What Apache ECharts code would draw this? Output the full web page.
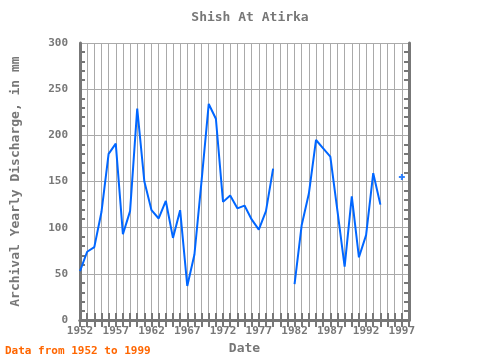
<!DOCTYPE html>
<html>
<head>
<meta charset="utf-8">
<script src="https://cdn.jsdelivr.net/npm/echarts@6/dist/echarts.min.js"></script>
<style>
  html, body { margin: 0; padding: 0; background: #fff; }
  #main { width: 480px; height: 360px; }
</style>
</head>
<body>
<div id="main"></div>
<script>
// yearly discharge, mm (1952..1998); '-' = no data
var years = []
for (var y = 1952; y <= 1998; y++) years.push(String(y))

var discharge = [
  53, 74, 79, 117, 180, 191, 93, 118, 229, 150,
  119, 110, 129, 89, 119, 37, 71, 151, 234, 218,
  128, 135, 121, 124, 109, 98, 118, 164, '-', '-',
  39, 103, 137, 195, 186, 177, 118, 58, 134, 68,
  92, 159, 125, '-', '-', 155, '-'
]

// 1997 stands alone, so it only shows as a marker
var lonePoints = years.map(function (yr, i) {
  return yr === '1997' ? discharge[i] : '-'
})

var gray = '#777'
var font = 'DejaVu Sans Mono'

var chart = echarts.init(document.getElementById('main'))

var xBase = {
  type: 'category',
  data: years,
  boundaryGap: false,
  axisLine: { lineStyle: { color: gray, width: 3 } },
  axisTick: { inside: true, interval: 0, length: 7, lineStyle: { color: gray, width: 2 } }
}
var yBase = {
  type: 'value',
  min: 0,
  max: 300,
  interval: 50,
  axisLine: { show: true, lineStyle: { color: gray, width: 3 } },
  axisTick: { inside: true, length: 9, lineStyle: { color: gray, width: 2 } },
  minorTick: { show: true, splitNumber: 5, length: 5, lineStyle: { color: gray, width: 2 } }
}

chart.setOption({
  animation: false,
  title: {
    text: 'Shish At Atirka',
    left: 245,
    top: 6,
    textAlign: 'center',
    textStyle: { color: gray, fontFamily: font, fontWeight: 'bold', fontSize: 13 }
  },
  graphic: [{
    type: 'text',
    left: 5,
    top: 346,
    style: { text: 'Data from 1952 to 1999', fill: '#ff6600', font: 'bold 11px "DejaVu Sans Mono"' }
  }],
  grid: { left: 80, right: 71, top: 43, bottom: 39 },
  xAxis: [
    Object.assign({}, xBase, {
      position: 'bottom',
      name: 'Date',
      nameLocation: 'middle',
      nameGap: 21,
      nameTextStyle: { color: gray, fontFamily: font, fontWeight: 'bold', fontSize: 13 },
      axisLabel: { interval: 4, color: gray, fontFamily: font, fontWeight: 'bold', fontSize: 11, margin: 6 },
      splitLine: { show: true, interval: 0, lineStyle: { color: '#aaa', width: 1 } }
    }),
    Object.assign({}, xBase, {
      position: 'top',
      axisLabel: { show: false },
      splitLine: { show: false }
    })
  ],
  yAxis: [
    Object.assign({}, yBase, {
      position: 'left',
      name: 'Archival Yearly Discharge, in mm',
      nameLocation: 'middle',
      nameGap: 58,
      nameTextStyle: { color: gray, fontFamily: font, fontWeight: 'bold', fontSize: 13 },
      axisLabel: { color: gray, fontFamily: font, fontWeight: 'bold', fontSize: 11, margin: 12 },
      splitLine: { show: true, lineStyle: { color: '#aaa', width: 1 } }
    }),
    Object.assign({}, yBase, {
      position: 'right',
      axisLabel: { show: false },
      splitLine: { show: false }
    })
  ],
  series: [
    {
      type: 'line',
      data: discharge,
      showSymbol: false,
      connectNulls: false,
      lineStyle: { color: '#0066ff', width: 2 },
      itemStyle: { color: '#0066ff' }
    },
    {
      type: 'scatter',
      data: lonePoints,
      symbol: 'path://M2,0H4V2H6V4H4V6H2V4H0V2H2Z',
      symbolSize: 6,
      itemStyle: { color: '#0066ff' }
    }
  ]
})
</script>
</body>
</html>
